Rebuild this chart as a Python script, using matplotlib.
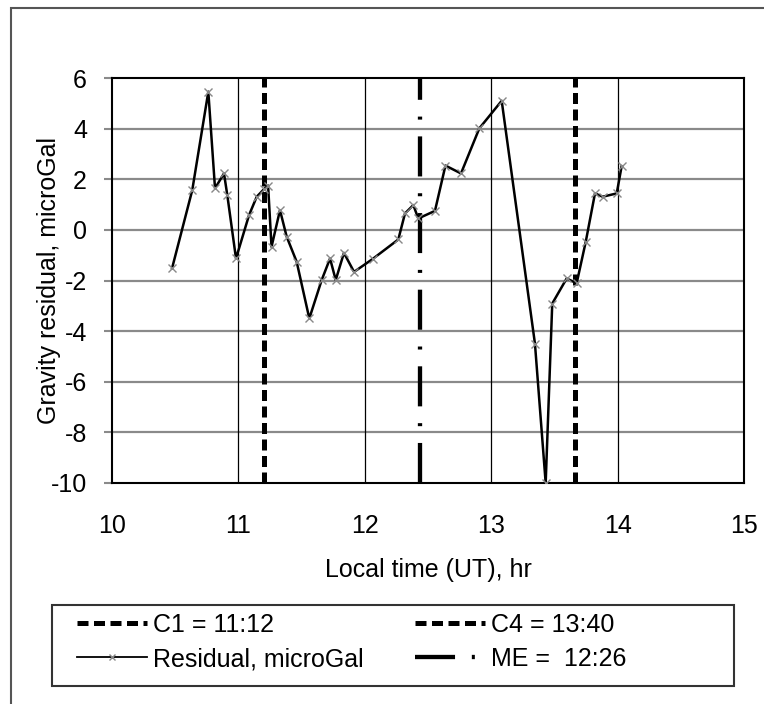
import matplotlib
matplotlib.use("Agg")
import matplotlib.pyplot as plt
from matplotlib.lines import Line2D
from matplotlib.patches import Rectangle

plt.rcParams["font.family"] = ["Liberation Sans", "DejaVu Sans"]
plt.rcParams["axes.unicode_minus"] = False

# residual gravity readings
hora = [10.475, 10.635, 10.762, 10.815, 10.886, 10.912, 10.981, 11.084, 11.145,
        11.205, 11.235, 11.262, 11.329, 11.382, 11.461, 11.561, 11.659, 11.725,
        11.77, 11.835, 11.915, 12.062, 12.265, 12.318, 12.384, 12.423, 12.555,
        12.638, 12.761, 12.906, 13.083, 13.346, 13.431, 13.483, 13.597, 13.676,
        13.748, 13.821, 13.882, 13.993, 14.032]
residuo = [-1.52, 1.57, 5.46, 1.64, 2.23, 1.38, -1.13, 0.58, 1.31,
           1.62, 1.75, -0.67, 0.78, -0.27, -1.26, -3.50, -1.98, -1.13,
           -1.98, -0.91, -1.66, -1.15, -0.38, 0.65, 0.98, 0.45, 0.75,
           2.54, 2.23, 4.01, 5.10, -4.49, -10.0, -2.91, -1.92, -2.11,
           -0.47, 1.44, 1.31, 1.44, 2.52]

# contact times (hours)
c1 = 11 + 12 / 60
me = 12 + 26 / 60
c4 = 13 + 40 / 60

xticks = [10, 11, 12, 13, 14, 15]
yticks = [-10, -8, -6, -4, -2, 0, 2, 4, 6]

fig = plt.figure(figsize=(7.64, 7.04), dpi=100)
ax = fig.add_axes([112 / 764, 1 - 483 / 704, 632 / 764, 405 / 704])

# grid: grey horizontal, black vertical
for y in yticks[1:-1]:
    ax.axhline(y, color="#8a8a8a", lw=1.6, zorder=1)
for x in xticks[1:-1]:
    ax.axvline(x, color="black", lw=0.9, zorder=1)

ax.axvline(c1, color="black", lw=3.6, dashes=(2.2, 1.1), zorder=2)
ax.axvline(c4, color="black", lw=3.6, dashes=(2.2, 1.1), zorder=2)
ax.axvline(me, color="black", lw=3.1, dashes=(9.3, 3.9, 0.7, 3.9), zorder=2)

ax.plot(hora, residuo, color="black", lw=1.8, marker="x", markersize=6,
        markeredgecolor="#888888", markeredgewidth=1.0, zorder=3)

ax.set_xlim(10, 15)
ax.set_ylim(-10, 6)
ax.set_xticks(xticks)
ax.set_yticks(yticks)
ax.tick_params(axis="x", length=0, pad=22, labelsize=18)
ax.tick_params(axis="y", length=6, width=1.5, color="#8a8a8a", pad=12, labelsize=18)
for s in ax.spines.values():
    s.set_linewidth(1.5)
    s.set_color("black")

ax.set_xlabel("Local time (UT), hr", fontsize=18)
ax.xaxis.set_label_coords(0.5, -0.185)
ax.set_ylabel("Gravity residual, microGal", fontsize=18)
ax.yaxis.set_label_coords(-0.1, 0.5)
ax.yaxis.label.set_verticalalignment("center")

# legend, frame drawn separately
h_c1 = Line2D([], [], color="black", lw=3.6, dashes=(2.2, 1.1))
h_res = Line2D([], [], color="black", lw=1.3, marker="x", markersize=5,
               markeredgecolor="#888888", markeredgewidth=1.0)
h_c4 = Line2D([], [], color="black", lw=3.6, dashes=(2.2, 1.1))
h_me = Line2D([], [], color="black", lw=3.1, dashes=(9.3, 3.9, 0.7, 3.9))
fig.legend([h_c1, h_res, h_c4, h_me],
           ["C1 = 11:12", "Residual, microGal", "C4 = 13:40", "ME =  12:26"],
           ncol=2, loc="upper left", bbox_to_anchor=(77 / 764, 1 - 613 / 704),
           frameon=False, borderpad=0, borderaxespad=0, fontsize=18,
           handlelength=2.8, handletextpad=0.25, columnspacing=2.05,
           labelspacing=0.4, numpoints=1)
fig.patches.append(Rectangle((52 / 764, 1 - 686 / 704), 682 / 764, 81 / 704,
                             transform=fig.transFigure, fill=False,
                             edgecolor="#333333", lw=1.5))

# outer chart frame, cut off at right and bottom
fig.patches.append(Rectangle((11 / 764, -0.1), 1.2, 1 - 8 / 704 + 0.1,
                             transform=fig.transFigure, fill=False,
                             edgecolor="#555555", lw=1.5))

fig.savefig("out.png", dpi=100)
